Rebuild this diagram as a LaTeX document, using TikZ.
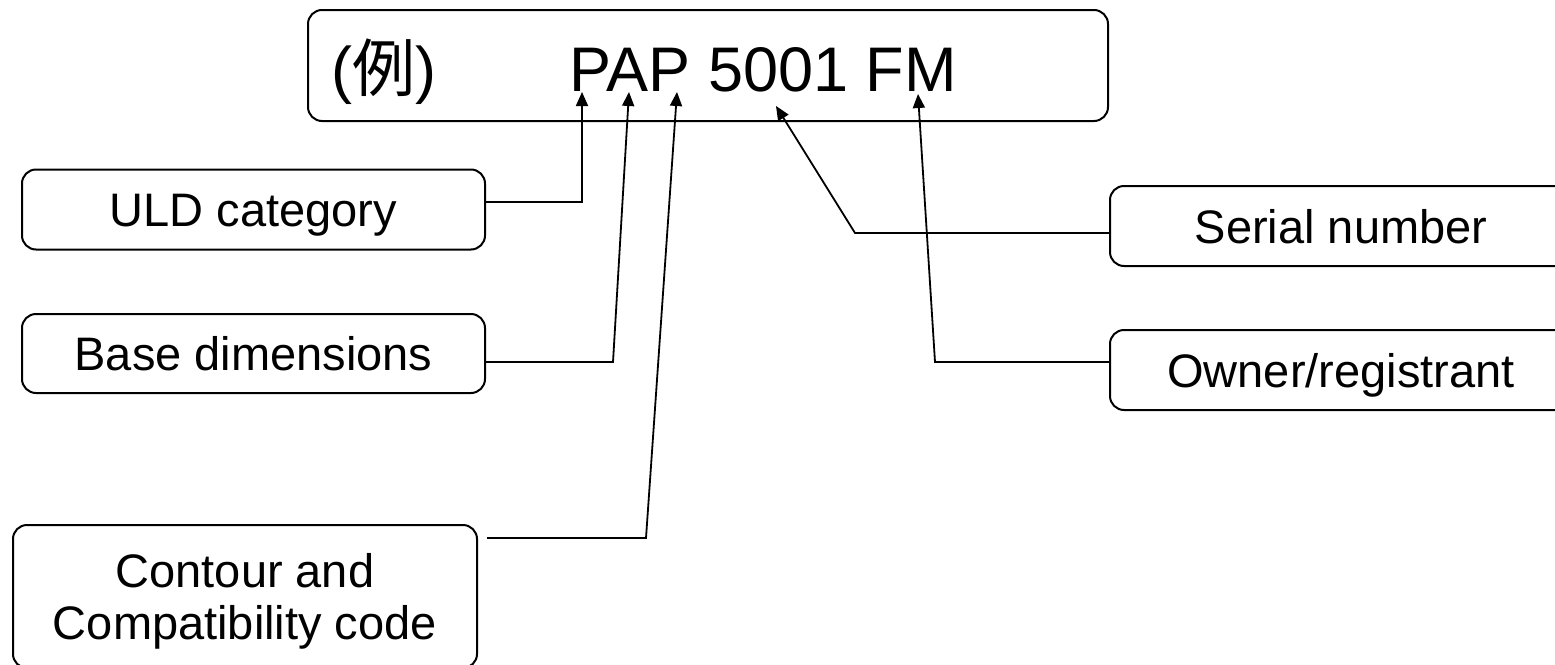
\documentclass[tikz,border=0pt]{standalone}
\usepackage{fontspec}
\setmainfont{Liberation Sans}
\newfontfamily\cjk{Noto Sans CJK JP}
\usetikzlibrary{arrows.meta,calc}
\newcommand{\bigtxt}{\fontsize{63}{75}\selectfont}
\newcommand{\lbltxt}{\fontsize{47}{52}\selectfont}

\begin{document}
\begin{tikzpicture}[x=1pt, y=-1pt, >={Triangle[length=14pt,width=12pt]},
  lbl/.style={draw, rounded corners=14pt, line width=2pt, minimum width=463pt, minimum height=80pt,
              inner sep=0pt, font=\lbltxt, text height=34pt, text depth=0pt, align=center},
  code/.style={inner sep=0pt, font=\bigtxt, anchor=base west},
  txt/.style={inner sep=0pt, font=\lbltxt, align=center},
  flow/.style={->, line width=1.8pt}]
\useasboundingbox (0,0) rectangle (1555,664);
\clip (0,0) rectangle (1555,664);
% the example code
\node[lbl, minimum width=800pt, minimum height=111pt] (frame) at (708,65.5) {};
\node[code] (rei) at (331,91) {({\cjk 例})};
\node[code] (pap) at (569,91) {PAP 5001 FM};
% label boxes
\node[lbl] (uld) at (253.5,209.5) {ULD category};
\node[lbl, minimum height=79pt] (base) at (253.5,353.5) {Base dimensions};
\node[lbl, minimum width=464pt, minimum height=143pt] (cont) at (245,596.5) {};
\node[txt] (conttxt) at (245,601) {Contour and\\Compatibility code};
\node[lbl, minimum width=462pt] (ser) at (1341,226) {Serial number};
\node[lbl, minimum width=462pt] (own) at (1341,370) {Owner/registrant};
% arrow tips under the letters
\coordinate (tP1) at (582,92);
\coordinate (tA) at (629,92);
\coordinate (tP2) at (677,92);
\coordinate (tSer) at (776,106);
\coordinate (tFM) at (918,94);
% bends
\coordinate (bUld) at (582,202);
\coordinate (bBase) at (613,362);
\coordinate (bCont) at (646,538);
\coordinate (bSer) at (855,233);
\coordinate (bOwn) at (935,362);
\draw[flow] (uld.east |- bUld) -- (bUld) -- (tP1);
\draw[flow] (base.east |- bBase) -- (bBase) -- (tA);
\draw[flow] ([xshift=9pt]cont.east |- bCont) -- (bCont) -- (tP2);
\draw[flow] (ser.west |- bSer) -- (bSer) -- (tSer);
\draw[flow] (own.west |- bOwn) -- (bOwn) -- (tFM);
\end{tikzpicture}
\end{document}
